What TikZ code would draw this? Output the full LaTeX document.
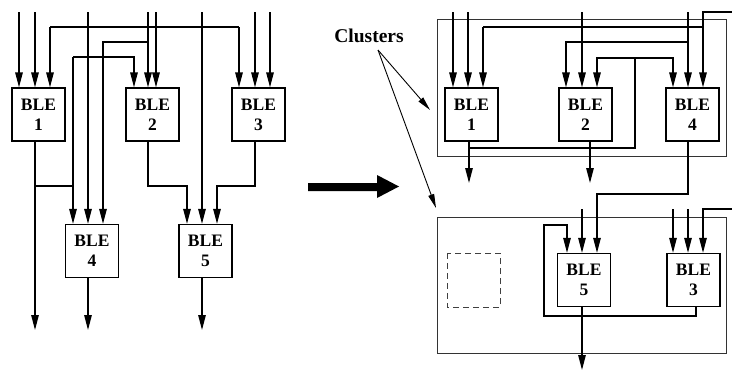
\documentclass[tikz,border=0pt]{standalone}
\usepackage{fontspec}
\setmainfont{Liberation Serif}
\usetikzlibrary{arrows.meta}
\tikzset{
  blebox/.style={draw, line width=1.3pt, minimum width=53pt, minimum height=53pt, inner sep=0pt, align=center, font=\fontsize{17.5}{20}\selectfont\bfseries},
  wire/.style={line width=1.3pt},
  arr/.style={wire, -{Triangle[length=15pt,width=7.5pt]}},
  clusterbox/.style={draw, line width=0.9pt, black!80},
  thinarr/.style={line width=0.9pt, -{Triangle[length=14pt,width=6pt]}},
  lbl/.style={font=\fontsize{19.5}{22}\selectfont\bfseries, inner sep=0pt},
}
\begin{document}
\begin{tikzpicture}[x=1pt,y=-1pt]
\useasboundingbox (0,0) rectangle (732,372);

% ---------- left side ----------
\node[blebox] (L1) at (38.5,114.5) {BLE\\1};
\node[blebox] (L2) at (152.5,114.5) {BLE\\2};
\node[blebox] (L3) at (258.5,114.5) {BLE\\3};
\node[blebox] (L4) at (92,251) {BLE\\4};
\node[blebox] (L5) at (205.5,251) {BLE\\5};

\draw[arr] (19,12) -- (19,0 |- L1.north);
\draw[arr] (35,12) -- (35,0 |- L1.north);
\draw[arr] (50,27) -- (50,0 |- L1.north);
\draw[wire] (50,27) -- (239,27);
\draw[arr] (239,27) -- (239,0 |- L3.north);
\draw[arr] (255,12) -- (255,0 |- L3.north);
\draw[arr] (270,12) -- (270,0 |- L3.north);

\draw[arr] (88,12) -- (88,0 |- L4.north);
\draw[arr] (148,12) -- (148,0 |- L2.north);
\draw[arr] (156,12) -- (156,0 |- L2.north);
\draw[arr] (148,42) -- (103,42) -- (103,0 |- L4.north);
\draw[arr] (73,57) -- (134,57) -- (134,0 |- L2.north);
\draw[arr] (73,57) -- (73,0 |- L4.north);
\draw[arr] (202,12) -- (202,0 |- L5.north);

\draw[arr] (L1.south -| 35,0) -- (35,330);
\draw[wire] (35,186) -- (73,186);
\draw[arr] (L2.south -| 148,0) -- (148,186) -- (187,186) -- (187,0 |- L5.north);
\draw[arr] (L3.south -| 255,0) -- (255,186) -- (217,186) -- (217,0 |- L5.north);
\draw[arr] (L4.south -| 88,0) -- (88,330);
\draw[arr] (L5.south -| 202,0) -- (202,330);

% ---------- big arrow ----------
\fill (308,183) -- (377,183) -- (377,175) -- (399,186.5) -- (377,198) -- (377,191) -- (308,191) -- cycle;

% ---------- label ----------
\node[lbl, anchor=base] (cl) at (369,42) {Clusters};
\coordinate (clp) at (378,50);
\coordinate (c1t) at (430,110);
\coordinate (c2t) at (436,208);
\draw[thinarr] (clp) -- (c1t);
\draw[thinarr] (clp) -- (c2t);

% ---------- right side ----------
\draw[clusterbox] (437,19) rectangle (726,156);
\draw[clusterbox] (437,217) rectangle (726,353);
\draw[line width=0.9pt, dashed, dash pattern=on 6pt off 4pt, black!75] (447,253) rectangle (500,307);

\node[blebox] (R1) at (471.5,114.5) {BLE\\1};
\node[blebox] (R2) at (585.5,114.5) {BLE\\2};
\node[blebox] (R4) at (692.5,114.5) {BLE\\4};
\node[blebox] (R5) at (584,280) {BLE\\5};
\node[blebox] (R3) at (693.5,280) {BLE\\3};

\draw[arr] (453,12) -- (453,0 |- R1.north);
\draw[arr] (468,12) -- (468,0 |- R1.north);
\draw[arr] (483,27) -- (483,0 |- R1.north);
\draw[wire] (483,27) -- (703,27);
\draw[arr] (732,12) -- (703,12) -- (703,0 |- R4.north);
\draw[arr] (688,12) -- (688,0 |- R4.north);
\draw[arr] (688,42) -- (566,42) -- (566,0 |- R2.north);
\draw[arr] (582,12) -- (582,0 |- R2.north);

\draw[arr] (R1.south -| 469,0) -- (469,183);
\draw[wire] (469,148) -- (635,148) -- (635,58);
\draw[arr] (635,58) -- (597,58) -- (597,0 |- R2.north);
\draw[arr] (635,58) -- (673,58) -- (673,0 |- R4.north);
\draw[arr] (R2.south -| 590,0) -- (590,183);

\draw[arr] (R4.south -| 688,0) -- (688,194) -- (597,194) -- (597,0 |- R5.north);
\draw[arr] (582,209) -- (582,0 |- R5.north);
\draw[arr] (673,209) -- (673,0 |- R3.north);
\draw[arr] (688,209) -- (688,0 |- R3.north);
\draw[arr] (732,209) -- (703,209) -- (703,0 |- R3.north);

\draw[arr] (R3.south -| 696,0) -- (696,316) -- (544,316) -- (544,225) -- (567,225) -- (567,0 |- R5.north);
\draw[arr] (R5.south -| 582,0) -- (582,370);
\end{tikzpicture}
\end{document}
